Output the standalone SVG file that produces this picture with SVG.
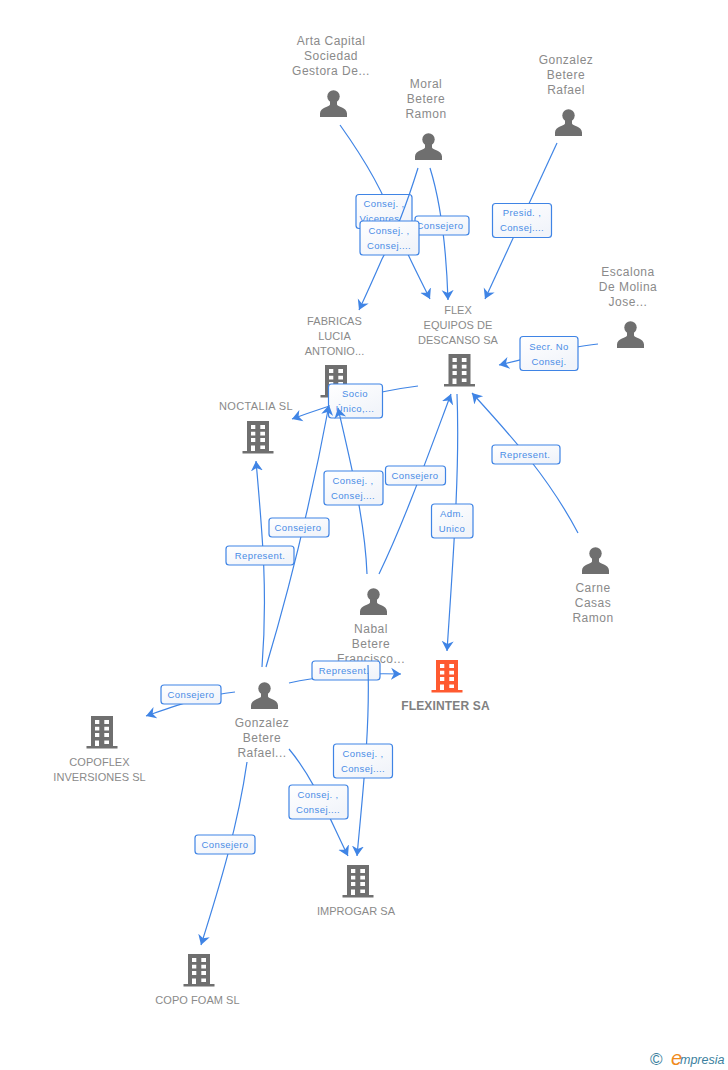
<svg xmlns="http://www.w3.org/2000/svg" xmlns:xlink="http://www.w3.org/1999/xlink" width="728" height="1070" viewBox="0 0 728 1070">
<style>
text{font-family:"Liberation Sans",Arial,sans-serif}
.n{font-size:12px;fill:#8a8a8a;text-anchor:middle;letter-spacing:.5px}
.c{font-size:11px;fill:#8a8a8a;text-anchor:middle;letter-spacing:.05px}
.e{fill:none;stroke:#3f84e5;stroke-width:1.2}
.b{fill:url(#g);stroke:#3f84e5;stroke-width:1.2}
.l{font-size:9.5px;fill:#4a8ce6;text-anchor:middle;letter-spacing:.4px}
.ic{fill:#6f6f6f}
</style>
<defs>
<linearGradient id="g" x1="0" y1="0" x2="0.6" y2="1"><stop offset="0" stop-color="#ffffff"/><stop offset="1" stop-color="#f1f4fa"/></linearGradient>
<marker id="a" markerUnits="userSpaceOnUse" markerWidth="12" markerHeight="14" refX="10" refY="7" orient="auto"><path d="M0 1L10 7L0 13L3 7Z" fill="#3f84e5"/></marker>
<g id="p"><circle cx="0" cy="-7" r="6.2"/><path d="M-3.500 -3L-3.500 1C-3.500 3-13.500 4-13.500 10L-13.500 13.500L13.500 13.500L13.500 10C13.500 4 3.500 3 3.500 1L3.500 -3Z"/></g>
<g id="h"><path fill-rule="evenodd" d="M-11 -17H11V13H15.500V15.500H-15.500V13H-11ZM-7 -13V-9H-2.700V-13ZM2.300 -13V-9H7V-13ZM-7 -6.300V-2.500H-2.700V-6.300ZM2.300 -6.300V-2.500H7V-6.300ZM-7 0V4H-2.700V0ZM2.300 0V4H7V0ZM-7 7.500V13H-3V7.500ZM2.300 7.500V11H7V7.500Z"/></g>
</defs>
<rect width="728" height="1070" fill="#ffffff"/>
<g id="n-fab"><text class="c" x="334.500" y="325">FABRICAS</text><text class="c" x="334.500" y="340">LUCIA</text><text class="c" x="334.500" y="355">ANTONIO...</text><use xlink:href="#h" class="ic" x="336" y="382"/></g>
<g id="connectors">
<path class="e" marker-end="url(#a)" d="M340 125C365 160 385 195 395 225C405 250 418 275 430 299"/>
<rect class="b" x="356" y="194.500" width="56" height="34" rx="3"/><text class="l" x="384" y="207">Consej. ,</text><text class="l" x="384" y="222">Vicepres...</text>
<path class="e" marker-end="url(#a)" d="M430 168C440 200 446 240 448 300"/>
<rect class="b" x="415" y="216" width="54" height="19" rx="3"/><text class="l" x="440" y="229">Consejero</text>
<path class="e" marker-end="url(#a)" d="M418 168C408 200 395 235 382 259C375 275 367 293 359 310"/>
<rect class="b" x="360" y="221" width="59" height="34" rx="3"/><text class="l" x="389" y="234">Consej. ,</text><text class="l" x="389" y="249">Consej....</text>
<path class="e" marker-end="url(#a)" d="M557 143L485 299"/>
<rect class="b" x="492.500" y="203.500" width="59" height="34" rx="3"/><text class="l" x="522" y="216">Presid. ,</text><text class="l" x="522" y="231">Consej....</text>
<path class="e" marker-end="url(#a)" d="M598 344C565 347 530 358 499 365"/>
<rect class="b" x="520" y="336.500" width="58" height="34" rx="3"/><text class="l" x="549" y="350">Secr.  No</text><text class="l" x="549" y="365">Consej.</text>
<path class="e" marker-end="url(#a)" d="M578 533C550 480 515 440 472 393"/>
<rect class="b" x="492" y="445" width="68" height="19" rx="3"/><text class="l" x="525" y="458">Represent.</text>
<path class="e" marker-end="url(#a)" d="M418 386C370 392 330 405 292 419"/>
<rect class="b" x="328.500" y="384" width="54" height="34" rx="3"/><text class="l" x="355" y="397">Socio</text><text class="l" x="355" y="412">Único,...</text>
<path class="e" marker-end="url(#a)" d="M367 574C365 520 350 460 338 408"/>
<rect class="b" x="324" y="471" width="59" height="34" rx="3"/><text class="l" x="353" y="484">Consej. ,</text><text class="l" x="353" y="499">Consej....</text>
<path class="e" marker-end="url(#a)" d="M379 574C405 520 430 450 451 394"/>
<rect class="b" x="385.500" y="466" width="60" height="19" rx="3"/><text class="l" x="415" y="479">Consejero</text>
<path class="e" marker-end="url(#a)" d="M457 394C460 470 453 560 447 651"/>
<rect class="b" x="431.500" y="504" width="41.500" height="34" rx="3"/><text class="l" x="452" y="517">Adm.</text><text class="l" x="452" y="532">Unico</text>
<path class="e" marker-end="url(#a)" d="M266 667C295 570 315 480 329 405"/>
<rect class="b" x="269" y="518" width="60" height="19" rx="3"/><text class="l" x="298" y="531">Consejero</text>
<path class="e" marker-end="url(#a)" d="M262 667C268 590 262 530 256 461"/>
<rect class="b" x="226" y="546" width="68" height="19" rx="3"/><text class="l" x="260" y="559">Represent.</text>
<path class="e" marker-end="url(#a)" d="M235 692C205 695 175 706 146 716"/>
<rect class="b" x="161" y="685" width="60" height="19" rx="3"/><text class="l" x="191" y="698">Consejero</text>
<path class="e" marker-end="url(#a)" d="M289 683C325 675 365 673 401 674"/>
<g id="n-nabal"><use xlink:href="#p" class="ic" x="373.500" y="601.500"/><text class="n" x="371" y="633">Nabal</text><text class="n" x="371" y="648">Betere</text><text class="n" x="371" y="663">Francisco...</text></g>
<rect class="b" x="312" y="661" width="68" height="19" rx="3"/><text class="l" x="344" y="674">Represent.</text>
<path class="e" marker-end="url(#a)" d="M368 665C370 730 363 790 357 856"/>
<rect class="b" x="333.500" y="744" width="59" height="34" rx="3"/><text class="l" x="363" y="757">Consej. ,</text><text class="l" x="363" y="772">Consej....</text>
<path class="e" marker-end="url(#a)" d="M289 749C315 780 330 820 348 856"/>
<rect class="b" x="289" y="785" width="59" height="34" rx="3"/><text class="l" x="318" y="798">Consej. ,</text><text class="l" x="318" y="813">Consej....</text>
<path class="e" marker-end="url(#a)" d="M247 762C238 825 220 885 201 945"/>
<rect class="b" x="195" y="835" width="60" height="19" rx="3"/><text class="l" x="225" y="848">Consejero</text>
</g>
<g id="n-arta"><text class="n" x="331" y="45">Arta Capital</text><text class="n" x="331" y="60">Sociedad</text><text class="n" x="331" y="75">Gestora De...</text><use xlink:href="#p" class="ic" x="333.500" y="103.500"/></g>
<g id="n-moral"><text class="n" x="426" y="88">Moral</text><text class="n" x="426" y="103">Betere</text><text class="n" x="426" y="118">Ramon</text><use xlink:href="#p" class="ic" x="428.500" y="146.500"/></g>
<g id="n-gbr"><text class="n" x="566" y="64">Gonzalez</text><text class="n" x="566" y="79">Betere</text><text class="n" x="566" y="94">Rafael</text><use xlink:href="#p" class="ic" x="568.500" y="122.500"/></g>
<g id="n-esc"><text class="n" x="628" y="276">Escalona</text><text class="n" x="628" y="291">De Molina</text><text class="n" x="628" y="306">Jose...</text><use xlink:href="#p" class="ic" x="630.500" y="334.500"/></g>
<g id="n-carne"><use xlink:href="#p" class="ic" x="595.500" y="560.500"/><text class="n" x="593" y="592">Carne</text><text class="n" x="593" y="607">Casas</text><text class="n" x="593" y="622">Ramon</text></g>
<g id="n-flex"><text class="c" x="458" y="314">FLEX</text><text class="c" x="458" y="329">EQUIPOS DE</text><text class="c" x="458" y="344">DESCANSO SA</text><use xlink:href="#h" class="ic" x="459.500" y="371"/></g>
<g id="n-noc"><text class="c" x="256" y="410" style="letter-spacing:.35px">NOCTALIA SL</text><use xlink:href="#h" class="ic" x="258" y="438"/></g>
<g id="n-flexinter"><use xlink:href="#h" x="447" y="677" fill="#ff5a30"/><text x="445.500" y="710" text-anchor="middle" font-size="12" font-weight="700" fill="#808080" letter-spacing=".15">FLEXINTER SA</text></g>
<g id="n-gon"><use xlink:href="#p" class="ic" x="264.500" y="695.500"/><text class="n" x="262" y="727">Gonzalez</text><text class="n" x="262" y="742">Betere</text><text class="n" x="262" y="757">Rafael...</text></g>
<g id="n-copoflex"><use xlink:href="#h" class="ic" x="102" y="733"/><text class="c" x="99.500" y="766">COPOFLEX</text><text class="c" x="99.500" y="781">INVERSIONES SL</text></g>
<g id="n-improgar"><use xlink:href="#h" class="ic" x="358" y="882"/><text class="c" x="356" y="915">IMPROGAR SA</text></g>
<g id="n-copofoam"><use xlink:href="#h" class="ic" x="199" y="971"/><text class="c" x="197.500" y="1004">COPO FOAM SL</text></g>
<g id="logo"><text x="650" y="1065" font-size="17" fill="#3b7f9e">©</text><text x="671" y="1065" font-size="20" font-style="italic" font-family="Liberation Serif" fill="#f08a1c">e</text><text x="680" y="1064" font-size="12.500" font-style="italic" fill="#3b7f9e">mpresia</text></g>
</svg>
